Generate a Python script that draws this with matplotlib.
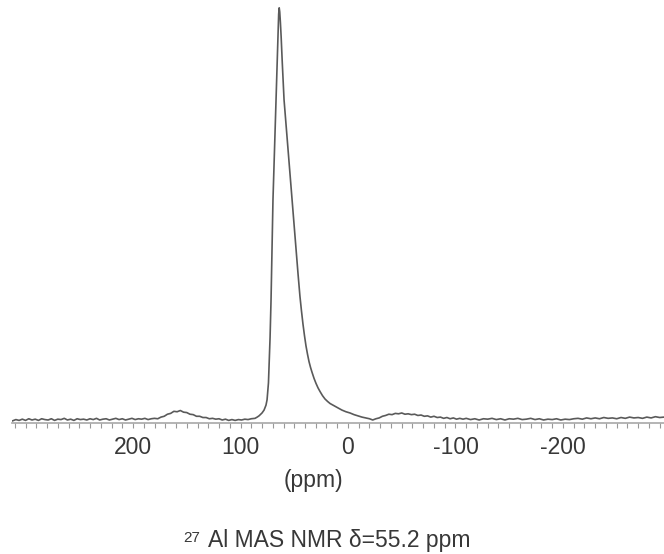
import matplotlib
matplotlib.use("Agg")
import matplotlib.pyplot as plt
from matplotlib.ticker import MultipleLocator, FixedLocator

plt.rcParams['font.family'] = ['Liberation Sans', 'DejaVu Sans']
plt.rcParams['axes.unicode_minus'] = False

# 27Al MAS NMR spectrum (chemical shift in ppm, relative intensity)
left_base_ppm = [312, 309, 306, 303, 300, 297, 294, 291, 288, 285, 282, 279, 276, 273, 270,
                 267, 264, 261, 258, 255, 252, 249, 246, 243, 240, 237, 234, 231, 228, 225,
                 222, 219, 216, 213, 210, 207, 204, 201, 198, 195, 192, 189, 186, 183]
left_base_int = [-0.2, 0.1, -0.1, 0.2, -0.1, 0.3, 0.0, 0.2, -0.1, 0.3, 0.1, 0.0, 0.3, -0.1, 0.2,
                 0.1, 0.4, 0.0, 0.2, -0.1, 0.3, 0.1, 0.2, 0.0, 0.3, 0.1, 0.4, 0.0, 0.2, 0.3,
                 0.0, 0.2, 0.4, 0.1, 0.3, 0.0, 0.2, 0.4, 0.1, 0.3, 0.2, 0.4, 0.1, 0.3]

left_sideband_ppm = [180, 177, 174, 171, 168, 165, 162, 159, 156, 153, 150, 147, 144, 141, 138,
                     135, 132, 129, 126, 123, 120, 117, 114, 111, 108, 105, 102, 99, 96, 93, 90]
left_sideband_int = [0.4, 0.3, 0.7, 0.9, 1.4, 1.6, 2.1, 2.0, 2.3, 1.9, 1.8, 1.4, 1.3, 0.9, 0.9,
                     0.6, 0.6, 0.3, 0.4, 0.2, 0.3, 0.0, 0.2, -0.1, 0.1, -0.1, 0.1, 0.0, 0.2, 0.1, 0.3]

main_peak_ppm = [86.5, 84.5, 82.8, 80.0, 78.1, 76.3, 75.3, 74.0, 73.5, 72.5,
                 71.6, 70.7, 69.8, 68.4, 67.0, 65.6, 65.0, 64.5, 64.0, 63.5,
                 62.9, 62.2, 61.2, 59.5, 57.6, 55.8, 54.0, 52.1, 50.2, 48.4,
                 46.5, 44.7, 43.3, 41.9, 40.5, 39.1, 37.7, 36.3, 34.9, 33.5,
                 31.6, 29.8, 27.9, 26.0, 23.7, 21.4, 19.0, 16.7, 14.0, 11.2,
                 8.4, 5.6, 1.9, -1.9, -5.6, -9.3, -13.0, -16.7, -20.0]
main_peak_int = [0.4, 0.7, 1.0, 1.7, 2.4, 3.6, 4.9, 9.0, 12.9, 20.0,
                 29.1, 41.3, 53.4, 65.5, 77.7, 89.8, 95.0, 98.5, 100.0, 99.0,
                 96.5, 93.0, 87.0, 77.7, 71.5, 65.5, 59.5, 53.4, 47.3, 41.3,
                 35.5, 30.0, 26.5, 23.3, 20.5, 18.0, 16.0, 14.2, 12.8, 11.6,
                 10.1, 8.9, 7.8, 6.9, 5.9, 5.1, 4.5, 4.0, 3.6, 3.2,
                 2.8, 2.4, 2.0, 1.7, 1.3, 1.0, 0.7, 0.5, 0.3]

right_sideband_ppm = [-23, -26, -29, -32, -35, -38, -41, -44, -47, -50, -53, -56, -59, -62, -65,
                      -68, -71, -74, -77, -80, -83, -86, -89, -92, -95, -98, -101, -104, -107]
right_sideband_int = [0.0, 0.3, 0.5, 0.9, 1.1, 1.4, 1.3, 1.6, 1.5, 1.7, 1.4, 1.5, 1.3, 1.4, 1.1,
                      1.2, 0.9, 1.0, 0.7, 0.9, 0.6, 0.7, 0.4, 0.6, 0.3, 0.5, 0.2, 0.4, 0.2]

right_base_ppm = [-110, -114, -118, -122, -126, -130, -134, -138, -142, -146,
                  -150, -154, -158, -162, -166, -170, -174, -178, -182, -186,
                  -190, -194, -198, -202, -206, -210, -214, -218, -222, -226,
                  -230, -234, -238, -242, -246, -250, -254, -258, -262, -266,
                  -270, -274, -278, -282, -286, -290, -294]
right_base_int = [0.4, 0.1, 0.3, 0.0, 0.3, 0.2, 0.4, 0.1, 0.3, 0.0,
                  0.3, 0.2, 0.4, 0.1, 0.2, 0.4, 0.1, 0.3, 0.0, 0.2,
                  0.1, 0.3, 0.0, 0.2, 0.1, 0.3, 0.4, 0.2, 0.5, 0.3,
                  0.5, 0.3, 0.6, 0.4, 0.5, 0.3, 0.6, 0.4, 0.7, 0.5,
                  0.6, 0.4, 0.7, 0.5, 0.8, 0.6, 0.7]

tick_values = [200, 100, 0, -100, -200]
tick_labels = ['200', '100', '0', '-100', '-200']

ppm = left_base_ppm + left_sideband_ppm + main_peak_ppm + right_sideband_ppm + right_base_ppm
intensity = left_base_int + left_sideband_int + main_peak_int + right_sideband_int + right_base_int

W, H = 664, 554
fig = plt.figure(figsize=(W / 100, H / 100), dpi=100)
ax = fig.add_axes([12 / W, 1 - 423 / H, 652 / W, 423 / H])

ax.plot(ppm, intensity, color='#5a5a5a', lw=1.2)

ax.set_xlim(312.6, -294)
ax.set_ylim(-0.73, 101.9)

for s in ['top', 'left', 'right']:
    ax.spines[s].set_visible(False)
ax.spines['bottom'].set_color('#a8a8a8')
ax.spines['bottom'].set_linewidth(1.2)
ax.set_yticks([])
ax.xaxis.set_major_locator(FixedLocator(tick_values))
ax.set_xticklabels(tick_labels)
ax.xaxis.set_minor_locator(MultipleLocator(10))
ax.tick_params(axis='x', which='both', direction='out', length=3.5, width=0.8,
               color='#999999')
ax.tick_params(axis='x', which='major', labelsize=16.5, labelcolor='#383838', pad=6)

fig.text(313 / W, 1 - 481 / H, '(ppm)', ha='center', va='center', fontsize=16.5,
         color='#383838')

main = fig.text(339 / W, 1 - 541 / H, 'Al MAS NMR δ=55.2 ppm', ha='center', va='center',
                fontsize=16.5, color='#383838')
fig.canvas.draw()
bb = main.get_window_extent()
fig.text((bb.x0 - 8) / W, (bb.y1 - 1) / H, '27', ha='right', va='top', fontsize=11,
         color='#383838')

fig.savefig('out.png', dpi=100)
